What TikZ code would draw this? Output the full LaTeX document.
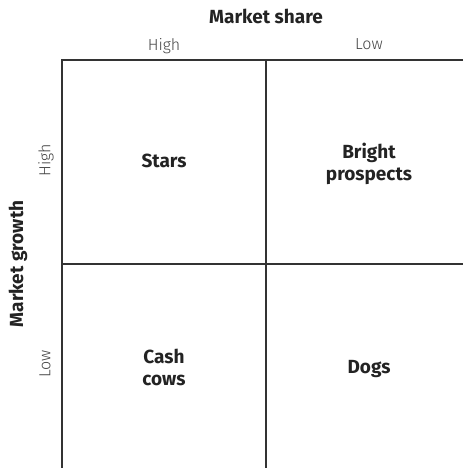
\documentclass[tikz,border=0pt]{standalone}
\usepackage{fontspec}
\setmainfont{Fira Sans}
\newfontfamily\lightfont{Fira Sans Light}
\usetikzlibrary{positioning, calc}
\definecolor{inkgray}{HTML}{232323}
\definecolor{linegray}{HTML}{333333}
\definecolor{tickgray}{HTML}{444444}
\tikzset{cell/.style={font=\fontsize{19}{22}\selectfont\bfseries, text=inkgray, align=center},
         axis/.style={font=\fontsize{19}{22}\selectfont\bfseries, text=inkgray},
         tick/.style={font=\fontsize{16}{19}\selectfont\lightfont, text=tickgray},
         grid/.style={draw=linegray, line width=1.1pt}}

\begin{document}
\begin{tikzpicture}[x=1pt,y=-1pt]
            \useasboundingbox (0,0) rectangle (463,468);

            % corners of the matrix
            \coordinate (tl) at (62,60);
            \coordinate (tm) at (266,60);
            \coordinate (tr) at (463,60);
            \coordinate (ml) at (62,264);
            \coordinate (mr) at (463,264);
            \coordinate (bl) at (62,468);
            \coordinate (bm) at (266,468);

            \draw[grid] (tr) -- (tl) -- (bl);
            \draw[grid] (tm) -- (bm);
            \draw[grid] (ml) -- (mr);

            \node[axis] (share) at (266,16.5){Market share};
            \node[tick] (sharehigh) at (164,46){High};
            \node[tick] (sharelow) at (369,44){Low};

            \node[axis, rotate=90] (growth) at (18,264){Market growth};
            \node[tick, rotate=90] (growthhigh) at (46,160){High};
            \node[tick, rotate=90] (growthlow) at (45,364){Low};

            \node[cell] (stars) at (164,161){Stars};
            \node[cell] (bright) at (369,164){Bright\\prospects};
            \node[cell] (cows) at (164,367){Cash\\cows};
            \node[cell] (dogs) at (369,369){Dogs};
            \end{tikzpicture}
\end{document}
